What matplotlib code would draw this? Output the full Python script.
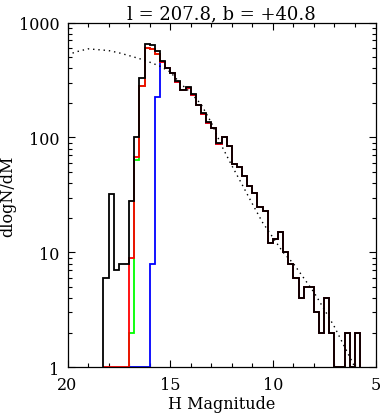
import numpy as np
import matplotlib
matplotlib.use("Agg")
import matplotlib.pyplot as plt

# ---- data (bin centres, faint -> bright, bin width 0.25 mag) ----
black_mag = [18.125, 17.875, 17.625, 17.375, 17.125, 16.875, 16.625, 16.375, 16.125, 15.875,
             15.625, 15.375, 15.125, 14.875, 14.625, 14.375, 14.125, 13.875, 13.625, 13.375,
             13.125, 12.875, 12.625, 12.375, 12.125, 11.875, 11.625, 11.375, 11.125, 10.875,
             10.625, 10.375, 10.125, 9.875, 9.625, 9.375, 9.125, 8.875, 8.625, 8.375,
             8.125, 7.875, 7.625, 7.375, 7.125, 6.875, 6.625, 6.375, 6.125, 5.875]
black_val = [6, 32, 7, 8, 8, 28, 100, 326, 648, 635,
             568, 464, 405, 366, 309, 261, 275, 238, 192, 162,
             135, 122, 89, 100, 84, 59, 55, 46, 38, 33,
             25, 23, 12, 13, 15, 10, 8, 6, 4, 5,
             5, 3, 2, 4, 2, 0, 0, 2, 0, 2]

red_mag = black_mag
red_val = [0, 0, 0, 0, 0, 9, 68, 281, 594, 586,
           530, 455, 398, 362, 305, 258, 268, 236, 190, 160,
           133, 120, 87, 100, 84, 59, 55, 46, 38, 33,
           25, 23, 12, 13, 15, 10, 8, 6, 4, 5,
           5, 3, 2, 4, 2, 0, 0, 2, 0, 2]

green_mag = black_mag[5:]
green_val = [2, 63, 281, 594, 586,
             530, 455, 398, 362, 305, 258, 268, 236, 190, 160,
             133, 120, 87, 100, 84, 59, 55, 46, 38, 33,
             25, 23, 12, 13, 15, 10, 8, 6, 4, 5,
             5, 3, 2, 4, 2, 0, 0, 2, 0, 2]

blue_mag = black_mag[5:]
blue_val = [0, 0, 0, 0, 8,
            223, 450, 398, 362, 305, 258, 268, 236, 190, 160,
            133, 120, 87, 100, 84, 59, 55, 46, 38, 33,
            25, 23, 12, 13, 15, 10, 8, 6, 4, 5,
            5, 3, 2, 4, 2, 0, 0, 2, 0, 2]

model_mag = [20.0, 19.5, 19.0, 18.5, 18.0, 17.5, 17.0, 16.5, 16.0, 15.5, 15.0, 14.5,
             14.0, 13.5, 13.0, 12.5, 12.0, 11.5, 11.0, 10.5, 10.0, 9.5, 9.0, 8.5,
             8.0, 7.5, 7.0, 6.5, 6.0, 5.5]
model_val = [525, 560, 590, 580, 570, 545, 515, 485, 452, 417, 372, 295,
             245, 195, 135, 85, 57, 39, 26.5, 18.2, 13.5, 10, 8, 6,
             4.5, 3.2, 2.25, 1.5, 1.0, 0.7]

title = "l = 207.8, b = +40.8"
xlabel = "H Magnitude"
ylabel = "dlogN/dM"
xticks = [20, 15, 10, 5]
yticks = [1, 10, 100, 1000]
ytick_labels = ["1", "10", "100", "1000"]

plt.rcParams['font.family'] = ['DejaVu Serif']

fig = plt.figure(figsize=(3.80, 4.14), dpi=100)
ax = fig.add_axes([67.5 / 380, 1 - 368.3 / 414, 308 / 380, (368.3 - 23.5) / 414])


def draw(mags, vals, color, lw=1.3, z=2):
    mags = np.asarray(mags, float)
    vals = np.asarray(vals, float)
    order = np.argsort(mags)
    m = mags[order]
    v = np.clip(vals[order], 1.0, None)
    edges = np.concatenate([m - 0.125, [m[-1] + 0.125]])
    ax.stairs(v, edges, baseline=1.0, color=color, lw=lw, zorder=z)


draw(green_mag, green_val, '#00ff00', z=2)
draw(blue_mag, blue_val, '#0000ff', z=2.2)
draw(red_mag, red_val, '#ff0000', z=2.4)
draw(black_mag, black_val, 'black', z=3)

ax.plot(model_mag, model_val, color='black', lw=1.0, linestyle=(0, (1, 2.8)), zorder=4)

ax.set_yscale('log')
ax.set_xlim(20, 5)
ax.set_ylim(1, 1000)
ax.set_xticks(xticks)
ax.set_xticklabels([str(t) for t in xticks])
ax.set_xticks(np.arange(5, 21, 1), minor=True)
ax.set_yticks(yticks)
ax.set_yticklabels(ytick_labels)
ax.tick_params(which='both', direction='in', top=True, right=True, width=0.8)
ax.tick_params(which='major', length=5.2, labelsize=11.5, pad=6)
ax.tick_params(which='minor', length=3.0)
for s in ax.spines.values():
    s.set_linewidth(0.9)

ax.set_title(title, fontsize=13, pad=3)
ax.set_xlabel(xlabel, fontsize=11.5, labelpad=2)
ax.set_ylabel(ylabel, fontsize=11.5, labelpad=2)

fig.savefig("out.png", dpi=100)
